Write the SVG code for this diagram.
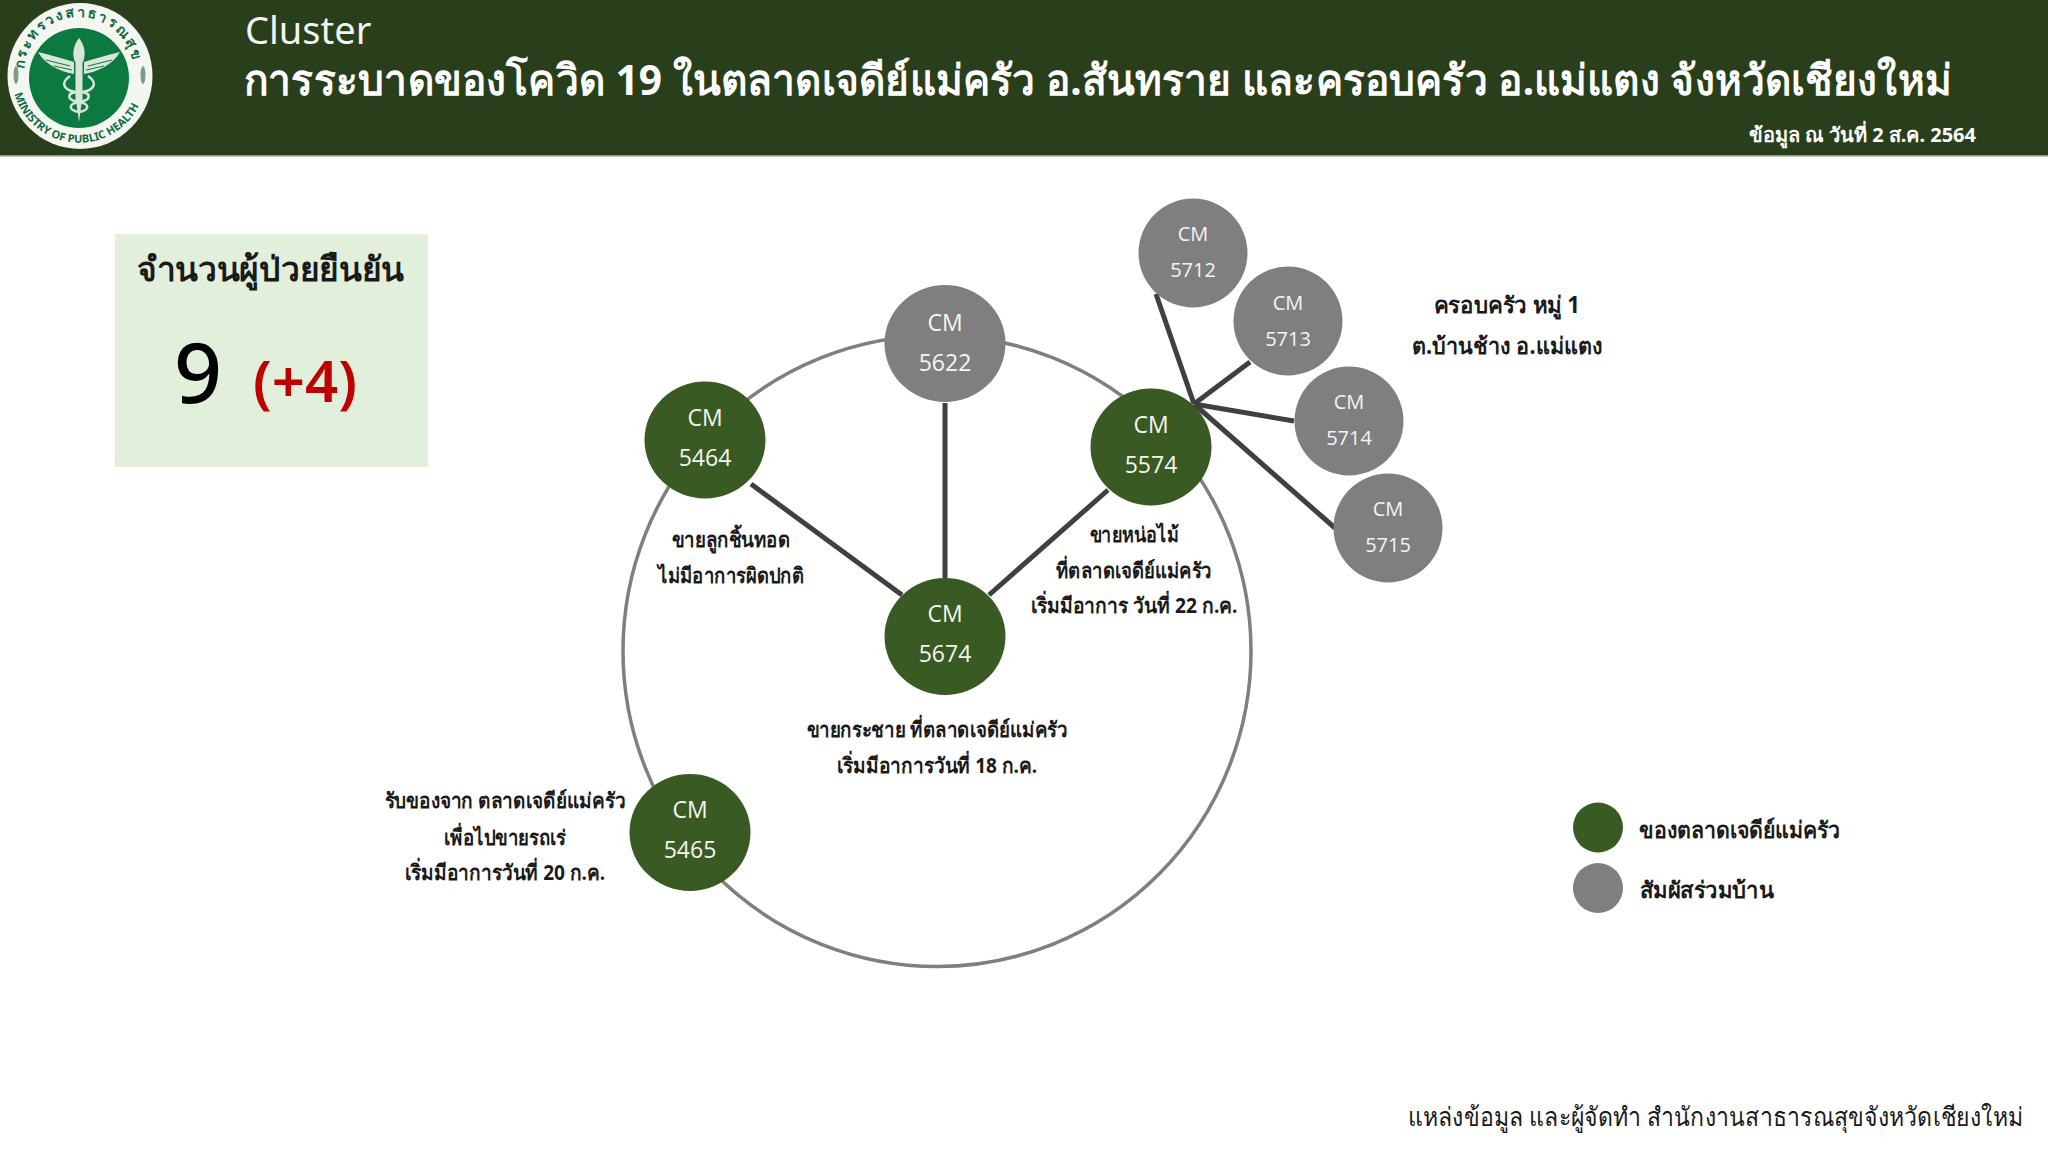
<svg xmlns="http://www.w3.org/2000/svg" width="2048" height="1152" viewBox="0 0 2048 1152">
<style>
text{font-family:"Noto Sans","DejaVu Sans","Liberation Sans",sans-serif}
.n{font-size:23px;fill:#f4f7ee;text-anchor:middle;font-family:"Open Sans","Noto Sans",sans-serif}
.s{font-size:20px;fill:#f4f4f4;text-anchor:middle;font-family:"Open Sans","Noto Sans",sans-serif}
.g{fill:#3a5a23}.y{fill:#7f7f7f}
.l{font-size:21px;font-weight:700;fill:#1a1a1a;text-anchor:middle}
.f{font-size:23px}
.c{stroke:#404040;stroke-width:5;fill:none}
</style>
<defs>
<path id="top" d="M24 72A55 55 0 0 1 134 72"/>
<path id="bot" d="M14 92A67 67 0 0 0 144 92"/>
</defs>
<rect id="hdr" width="2048" height="156" fill="#293e1a"/>
<rect y="155" width="2048" height="1.5" fill="#8a9a78"/>
<g id="logo">
<ellipse cx="80" cy="76" rx="72.5" ry="73" fill="#f4f6f2"/>
<circle cx="79" cy="78" r="50" fill="#0c7a40"/>
<ellipse cx="16" cy="75" rx="2.5" ry="9" fill="#7d9c84"/>
<ellipse cx="143" cy="75" rx="2.5" ry="9" fill="#7d9c84"/>
<g fill="#d8e5da">
<path d="M74 74C62 72 46 66 38 52 50 55 62 58 74 62z"/>
<path d="M84 74C96 72 112 66 120 52 108 55 96 58 84 62z"/>
<path d="M79 38C73 46 72 54 75 62h8C86 54 85 46 79 38z"/>
<rect x="75.5" y="62" width="7" height="38"/>
<path d="M76 100h6l-3 22z"/>
</g>
<g fill="none" stroke="#0c7a40" stroke-width="1">
<path d="M46 60 70 66M54 66 72 70M112 60 88 66M104 66 86 70"/>
</g>
<g fill="none" stroke="#d8e5da" stroke-width="2.5">
<path d="M70 76C58 84 66 92 79 92 92 92 92 100 79 102 68 104 68 110 79 112"/>
<path d="M88 76C100 84 92 92 79 92 66 92 66 100 79 102 90 104 90 110 79 112"/>
</g>
<text font-size="14" font-weight="700" fill="#0f6b3a" letter-spacing="2"><textPath href="#top" startOffset="3">กระทรวงสาธารณสุข</textPath></text>
<text font-size="11" font-weight="700" fill="#0f6b3a" font-family="Liberation Sans,sans-serif"><textPath href="#bot" startOffset="2">MINISTRY OF PUBLIC HEALTH</textPath></text>
</g>
<text x="245" y="44" font-size="38" fill="#f3f3f3" font-family="Open Sans,Noto Sans,sans-serif">Cluster</text>
<text x="244" y="95" font-size="42" font-weight="700" fill="#fff" textLength="1708" lengthAdjust="spacingAndGlyphs">การระบาดของโควิด 19 ในตลาดเจดีย์แม่ครัว อ.สันทราย และครอบครัว อ.แม่แตง จังหวัดเชียงใหม่</text>
<text x="1976" y="142" font-size="20" font-weight="700" fill="#fff" text-anchor="end">ข้อมูล ณ วันที่ 2 ส.ค. 2564</text>
<g id="summary">
<rect x="115" y="234" width="313" height="233" fill="#e2efda"/>
<text x="137" y="281" font-size="34" font-weight="700" fill="#1a1a1a" textLength="267" lengthAdjust="spacingAndGlyphs">จำนวนผู้ป่วยยืนยัน</text>
<text x="198" y="403" font-size="84" font-weight="500" fill="#000" text-anchor="middle" font-family="Open Sans,sans-serif">9</text>
<text x="305" y="402" font-size="58" font-weight="600" fill="#c00000" text-anchor="middle" font-family="Open Sans,sans-serif">(+4)</text>
</g>
<ellipse id="ring" cx="937" cy="651" rx="314" ry="315.5" fill="none" stroke="#7f7f7f" stroke-width="3.5"/>
<g id="connectors" class="c">
<path d="M751 484 902 595"/>
<path d="M945 403V578"/>
<path d="M1108 490 989 595"/>
<path d="M1156 294 1194 404"/>
<path d="M1250 362 1194 404"/>
<path d="M1294 421 1194 404"/>
<path d="M1335 528 1194 404"/>
</g>
<g id="cm5622"><ellipse class="y" cx="945" cy="343.5" rx="60.5" ry="58.5"/><text class="n" x="945" y="331">CM</text><text class="n" x="945" y="371">5622</text></g>
<g id="cm5464"><ellipse class="g" cx="705" cy="440" rx="60.5" ry="58.5"/><text class="n" x="705" y="426">CM</text><text class="n" x="705" y="466">5464</text></g>
<g id="cm5574"><ellipse class="g" cx="1151" cy="447" rx="60.5" ry="58.5"/><text class="n" x="1151" y="433">CM</text><text class="n" x="1151" y="473">5574</text></g>
<g id="cm5674"><ellipse class="g" cx="945" cy="636.5" rx="60.5" ry="58.5"/><text class="n" x="945" y="622">CM</text><text class="n" x="945" y="662">5674</text></g>
<g id="cm5465"><ellipse class="g" cx="690" cy="832.5" rx="60.5" ry="58.5"/><text class="n" x="690" y="818">CM</text><text class="n" x="690" y="858">5465</text></g>
<g id="cm5712"><circle class="y" cx="1193" cy="253" r="54.5"/><text class="s" x="1193" y="241">CM</text><text class="s" x="1193" y="277">5712</text></g>
<g id="cm5713"><circle class="y" cx="1288" cy="321" r="54.5"/><text class="s" x="1288" y="310">CM</text><text class="s" x="1288" y="346">5713</text></g>
<g id="cm5714"><circle class="y" cx="1349" cy="421" r="54.5"/><text class="s" x="1349" y="409">CM</text><text class="s" x="1349" y="445">5714</text></g>
<g id="cm5715"><circle class="y" cx="1388" cy="528" r="54.5"/><text class="s" x="1388" y="516">CM</text><text class="s" x="1388" y="552">5715</text></g>
<g id="labels">
<text class="l" x="731" y="547" textLength="118" lengthAdjust="spacingAndGlyphs">ขายลูกชิ้นทอด</text>
<text class="l" x="731" y="583" textLength="146" lengthAdjust="spacingAndGlyphs">ไม่มีอาการผิดปกติ</text>
<text class="l" x="1134" y="542" textLength="89" lengthAdjust="spacingAndGlyphs">ขายหน่อไม้</text>
<text class="l" x="1134" y="578" textLength="156" lengthAdjust="spacingAndGlyphs">ที่ตลาดเจดีย์แม่ครัว</text>
<text class="l" x="1134" y="613" textLength="207" lengthAdjust="spacingAndGlyphs">เริ่มมีอาการ วันที่ 22 ก.ค.</text>
<text class="l" x="937" y="737" textLength="261" lengthAdjust="spacingAndGlyphs">ขายกระชาย ที่ตลาดเจดีย์แม่ครัว</text>
<text class="l" x="937" y="773" textLength="200" lengthAdjust="spacingAndGlyphs">เริ่มมีอาการวันที่ 18 ก.ค.</text>
<text class="l" x="505" y="808" textLength="241" lengthAdjust="spacingAndGlyphs">รับของจาก ตลาดเจดีย์แม่ครัว</text>
<text class="l" x="505" y="845" textLength="122" lengthAdjust="spacingAndGlyphs">เพื่อไปขายรถเร่</text>
<text class="l" x="505" y="880" textLength="200" lengthAdjust="spacingAndGlyphs">เริ่มมีอาการวันที่ 20 ก.ค.</text>
<text class="l f" x="1507" y="313" textLength="146" lengthAdjust="spacingAndGlyphs">ครอบครัว หมู่ 1</text>
<text class="l f" x="1507" y="354" textLength="190" lengthAdjust="spacingAndGlyphs">ต.บ้านช้าง อ.แม่แตง</text>
</g>
<g id="legend">
<ellipse class="g" cx="1598" cy="827.5" rx="25" ry="25"/>
<text x="1639" y="838" font-size="23" font-weight="700" fill="#1a1a1a" textLength="201" lengthAdjust="spacingAndGlyphs">ของตลาดเจดีย์แม่ครัว</text>
<ellipse class="y" cx="1598" cy="888" rx="25" ry="25"/>
<text x="1640" y="898" font-size="23" font-weight="700" fill="#1a1a1a" textLength="134" lengthAdjust="spacingAndGlyphs">สัมผัสร่วมบ้าน</text>
</g>
<text x="1408" y="1126" font-size="26" fill="#1a1a1a" textLength="615" lengthAdjust="spacingAndGlyphs">แหล่งข้อมูล และผู้จัดทำ สำนักงานสาธารณสุขจังหวัดเชียงใหม่</text>
</svg>
